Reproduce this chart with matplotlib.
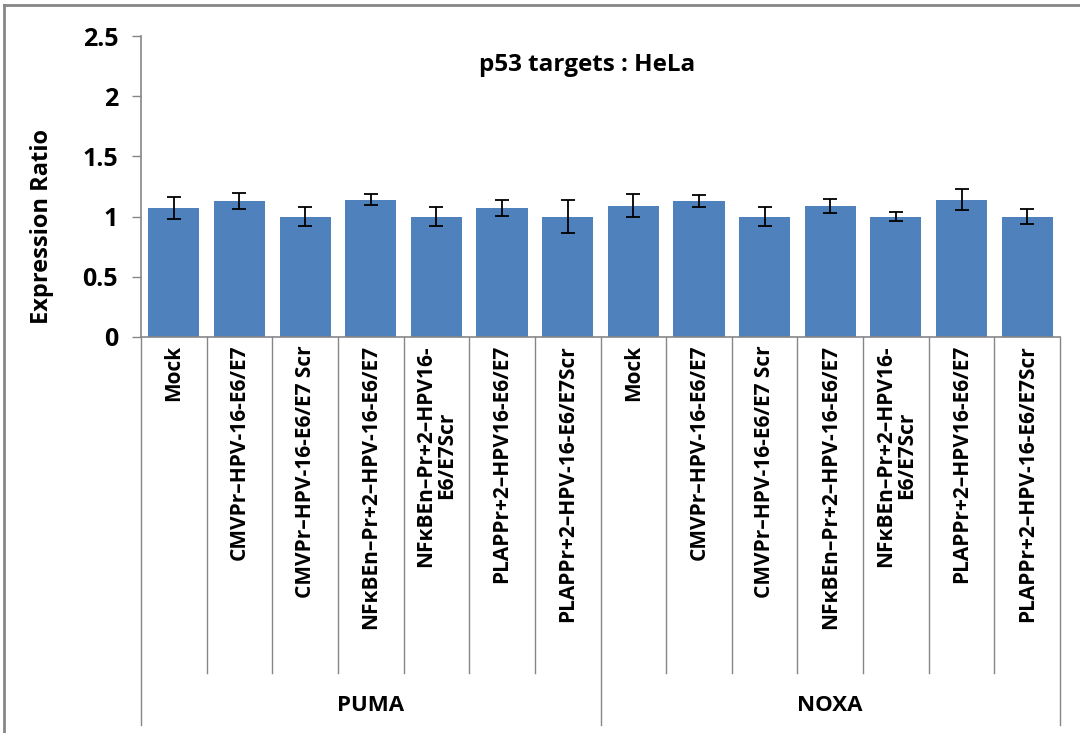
import matplotlib
matplotlib.use("Agg")
import matplotlib.pyplot as plt
import numpy as np

plt.rcParams["font.family"] = ["Open Sans", "DejaVu Sans"]
plt.rcParams["font.weight"] = "bold"

# --- data ---
groups = ["PUMA", "NOXA"]
conditions = [
    "Mock",
    "CMVPr–HPV-16-E6/E7",
    "CMVPr–HPV-16-E6/E7 Scr",
    "NFκBEn–Pr+2–HPV-16-E6/E7",
    "NFκBEn–Pr+2–HPV16-\nE6/E7Scr",
    "PLAPPr+2–HPV16-E6/E7",
    "PLAPPr+2–HPV-16-E6/E7Scr",
]
puma_vals = [1.07, 1.13, 1.00, 1.14, 1.00, 1.07, 1.00]
puma_err = [0.09, 0.065, 0.08, 0.045, 0.08, 0.065, 0.135]
noxa_vals = [1.09, 1.13, 1.00, 1.09, 1.00, 1.14, 1.00]
noxa_err = [0.095, 0.05, 0.08, 0.06, 0.04, 0.087, 0.065]
yticks = [0, 0.5, 1, 1.5, 2, 2.5]

values = np.array(puma_vals + noxa_vals)
errors = np.array(puma_err + noxa_err)
labels = conditions * len(groups)
x = np.arange(len(values))

grey = "#868686"
bar_color = "#4F81BD"

fig = plt.figure(figsize=(10.8, 7.33), dpi=100)
ax = fig.add_axes([141 / 1080, 1 - 337 / 733, (1060 - 141) / 1080, (337 - 36) / 733])

ax.bar(x, values, width=0.78, color=bar_color, zorder=2)
ax.errorbar(x, values, yerr=errors, fmt="none", ecolor="black",
            elinewidth=1.3, capsize=5, capthick=1.3, zorder=3)

ax.set_xlim(-0.5, len(values) - 0.5)
ax.set_ylim(0, 2.5)
ax.set_yticks(yticks)
ax.set_yticklabels([f"{t:g}" for t in yticks], fontsize=18, fontweight="bold")
ax.tick_params(axis="y", direction="out", length=6.5, width=1, color=grey, pad=10)
ax.set_xticks([])

for side in ["top", "right"]:
    ax.spines[side].set_visible(False)
for side in ["left", "bottom"]:
    ax.spines[side].set_color(grey)
    ax.spines[side].set_linewidth(1.2)

# category labels + separators below the axis
trans = ax.get_xaxis_transform()
span = 337 - 36
for i, lab in enumerate(labels):
    ax.text(i, -8 / span, lab, transform=trans, rotation=90, ha="center", va="top",
            multialignment="center", fontsize=15, fontweight="bold", linespacing=1.0)
for b in range(1, len(values)):
    if b % len(conditions) == 0:
        continue
    ax.plot([b - 0.5, b - 0.5], [0, -(673 - 337) / span], transform=trans,
            color=grey, lw=1, clip_on=False)
for g in range(len(groups) + 1):
    xb = g * len(conditions) - 0.5
    ax.plot([xb, xb], [0, -(725 - 337) / span], transform=trans,
            color=grey, lw=1, clip_on=False)
for g, name in enumerate(groups):
    xc = g * len(conditions) + (len(conditions) - 1) / 2
    ax.text(xc, -(706 - 337) / span, name, transform=trans, ha="center", va="center",
            fontsize=16, fontweight="bold")

ax.text(0.485, 0.905, "p53 targets : HeLa", transform=ax.transAxes, ha="center",
        va="center", fontsize=17.5, fontweight="bold")
fig.text(42 / 1080, 1 - 227 / 733, "Expression Ratio", rotation=90, ha="center",
         va="center", fontsize=17, fontweight="bold")

# outer chart frame (top and left edges visible in the reference)
fig.add_artist(plt.Line2D([4 / 1080, 1], [1 - 5 / 733, 1 - 5 / 733], color=grey, lw=2))
fig.add_artist(plt.Line2D([4 / 1080, 4 / 1080], [0, 1 - 5 / 733], color=grey, lw=2))

fig.savefig("out.png", dpi=100)
plt.close(fig)
